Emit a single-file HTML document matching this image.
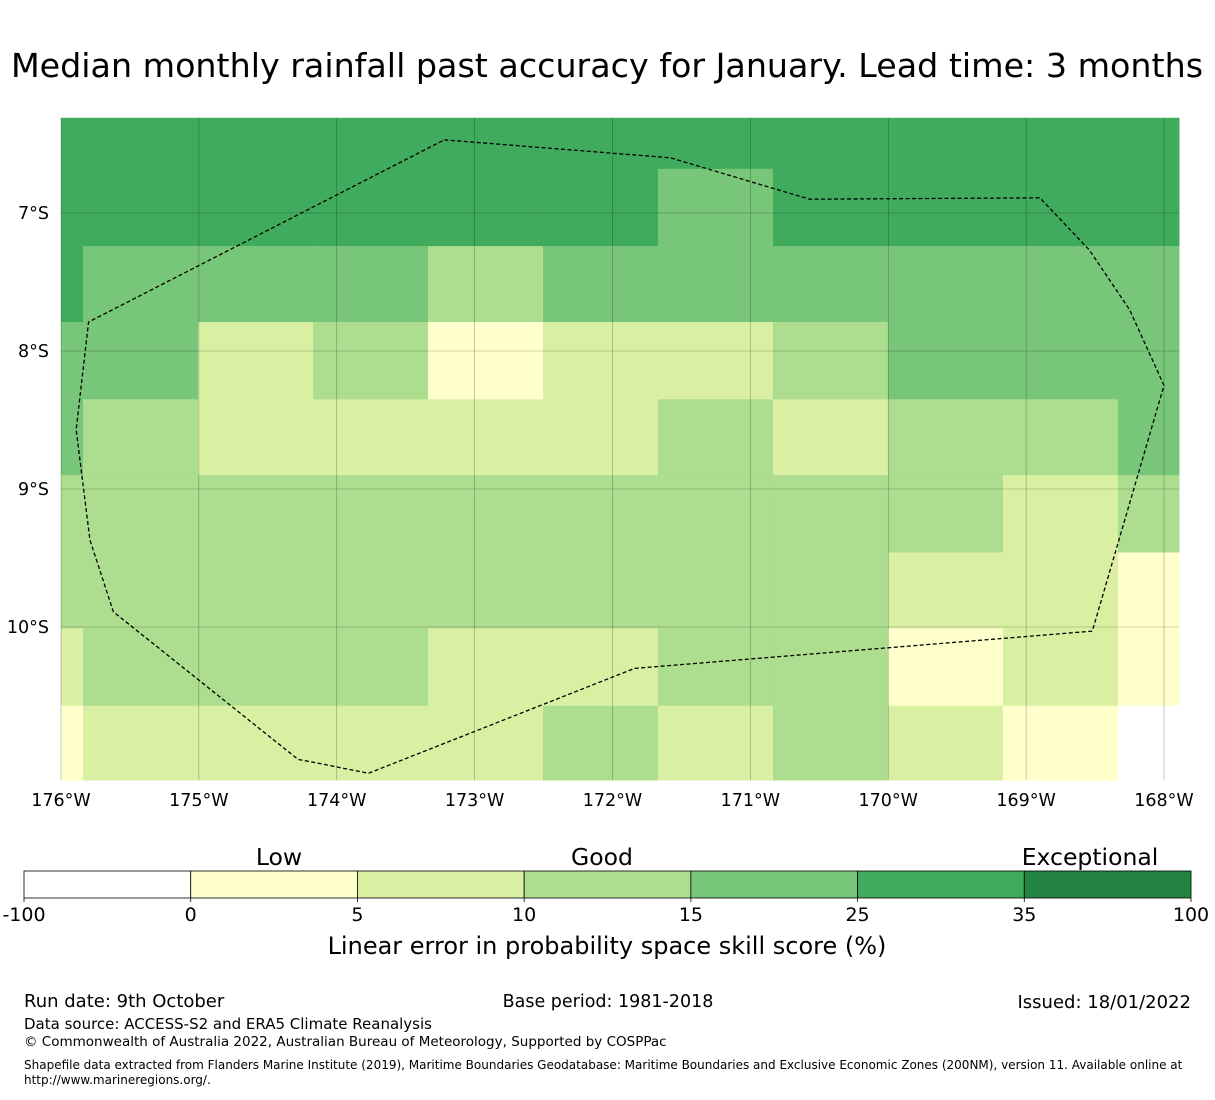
<!DOCTYPE html>
<html><head><meta charset="utf-8"><style>
body{margin:0;background:#fff;font-family:"Liberation Sans","DejaVu Sans",sans-serif;}
svg text{font-family:"DejaVu Sans","Liberation Sans",sans-serif;}
</style></head><body>
<svg id="chart" width="1215" height="1095" viewBox="0 0 1215 1095" xmlns="http://www.w3.org/2000/svg">
<text x="607" y="77" font-size="33.3" text-anchor="middle" fill="#000">Median monthly rainfall past accuracy for January. Lead time: 3 months</text>
<g id="map"></g>
<g id="cbar"></g>
<text x="279" y="865" font-size="23.5" text-anchor="middle">Low</text>
<text x="602" y="865" font-size="23.5" text-anchor="middle">Good</text>
<text x="1090" y="865" font-size="23.5" text-anchor="middle">Exceptional</text>
<text x="607" y="954" font-size="24" text-anchor="middle">Linear error in probability space skill score (%)</text>
<text x="24" y="1007" font-size="18">Run date: 9th October</text>
<text x="608" y="1007" font-size="17.5" text-anchor="middle">Base period: 1981-2018</text>
<text x="1191" y="1008" font-size="18" text-anchor="end">Issued: 18/01/2022</text>
<text x="24" y="1029" font-size="15">Data source: ACCESS-S2 and ERA5 Climate Reanalysis</text>
<text x="24" y="1046" font-size="13.5">© Commonwealth of Australia 2022, Australian Bureau of Meteorology, Supported by COSPPac</text>
<text x="24" y="1069" font-size="12">Shapefile data extracted from Flanders Marine Institute (2019), Maritime Boundaries Geodatabase: Maritime Boundaries and Exclusive Economic Zones (200NM), version 11. Available online at</text>
<text x="24" y="1084" font-size="12">http://www.marineregions.org/.</text>
</svg>
<script>
const colors=["#ffffff","#ffffcc","#d9f0a3","#addd8e","#78c679","#41ab5d","#238443"];
const boundaries=["-100","0","5","10","15","25","35","100"];
const lonEdges=[-176,-175.84,-175.006,-174.172,-173.338,-172.504,-171.67,-170.836,-170.002,-169.168,-168.334,-167.89];
const latEdges=[-6.31,-6.68,-7.24,-7.79,-8.35,-8.90,-9.46,-10.01,-10.57,-11.11];
const skillClass=[
[5,5,5,5,5,5,5,5,5,5,5],
[5,5,5,5,5,5,4,5,5,5,5],
[5,4,4,4,3,4,4,4,4,4,4],
[4,4,2,3,1,2,2,3,4,4,4],
[4,3,2,2,2,2,3,2,3,3,4],
[3,3,3,3,3,3,3,3,3,2,3],
[3,3,3,3,3,3,3,3,2,2,1],
[2,3,3,3,2,2,3,3,1,2,1],
[1,2,2,2,2,3,2,3,2,1,0]];
const eezLon=[-173.22,-171.58,-170.57,-168.90,-168.54,-168.25,-168.00,-168.52,-171.84,-173.77,-174.17,-174.28,-175.62,-175.79,-175.89,-175.80,-173.22];
const eezLat=[-6.47,-6.60,-6.90,-6.89,-7.27,-7.70,-8.25,-10.03,-10.30,-11.06,-10.98,-10.96,-9.89,-9.37,-8.57,-7.79,-6.47];
const lonTicks=[-176,-175,-174,-173,-172,-171,-170,-169,-168];
const latTicks=[-7,-8,-9,-10];

(function(){
const NS="http://www.w3.org/2000/svg";
const xs=lon=>61+(lon+176)*137.875;
const ys=lat=>213+(-7-lat)*138;
function mk(tag,attrs,parent){const e=document.createElementNS(NS,tag);for(const k in attrs)e.setAttribute(k,attrs[k]);parent.appendChild(e);return e;}
const map=document.getElementById('map');
for(let r=0;r<skillClass.length;r++)for(let c=0;c<skillClass[r].length;c++){
  const x0=xs(lonEdges[c]),x1=xs(lonEdges[c+1]),y0=ys(latEdges[r]),y1=ys(latEdges[r+1]);
  const e=mk('rect',{x:x0,y:y0,width:x1-x0+0.3,height:y1-y0+0.3,fill:colors[skillClass[r][c]]},map);
  
  
}
const yTop=ys(latEdges[0]),yBot=ys(latEdges[latEdges.length-1]),xLeft=xs(lonEdges[0]),xRight=xs(lonEdges[lonEdges.length-1]);
lonTicks.forEach(l=>{
  const x=xs(l);
  const g=mk('line',{x1:x,x2:x,y1:yTop,y2:yBot,stroke:'#000','stroke-opacity':0.35,'stroke-width':0.6},map);
  
  
  const t=mk('text',{x:x,y:806,'font-size':17.5,'text-anchor':'middle'},map);
  t.textContent=Math.abs(l)+'°W';
  
  
});
latTicks.forEach(l=>{
  const y=ys(l);
  const g=mk('line',{x1:xLeft,x2:xRight,y1:y,y2:y,stroke:'#000','stroke-opacity':0.35,'stroke-width':0.6},map);
  
  
  const t=mk('text',{x:49,y:y+6,'font-size':17.5,'text-anchor':'end'},map);
  t.textContent=Math.abs(l)+'°S';
  
  
});
const pts=eezLon.map((l,i)=>xs(l)+','+ys(eezLat[i])).join(' ');
const eez=mk('polyline',{points:pts,fill:'none',stroke:'#000','stroke-width':1.3,'stroke-dasharray':'4,2.5'},map);



const cb=document.getElementById('cbar');
const cx0=24,cw=(1191-24)/colors.length;
colors.forEach((col,i)=>{
  const e=mk('rect',{x:cx0+i*cw,y:871,width:cw,height:27,fill:col,stroke:'#000','stroke-width':0.8},cb);
  
  
});
boundaries.forEach((b,i)=>{
  const x=cx0+i*cw;
  mk('line',{x1:x,x2:x,y1:898,y2:902,stroke:'#000','stroke-width':0.8},cb);
  const t=mk('text',{x:x,y:921,'font-size':19,'text-anchor':'middle'},cb);
  t.textContent=b;
  
  
});
})();
</script>
</body></html>
